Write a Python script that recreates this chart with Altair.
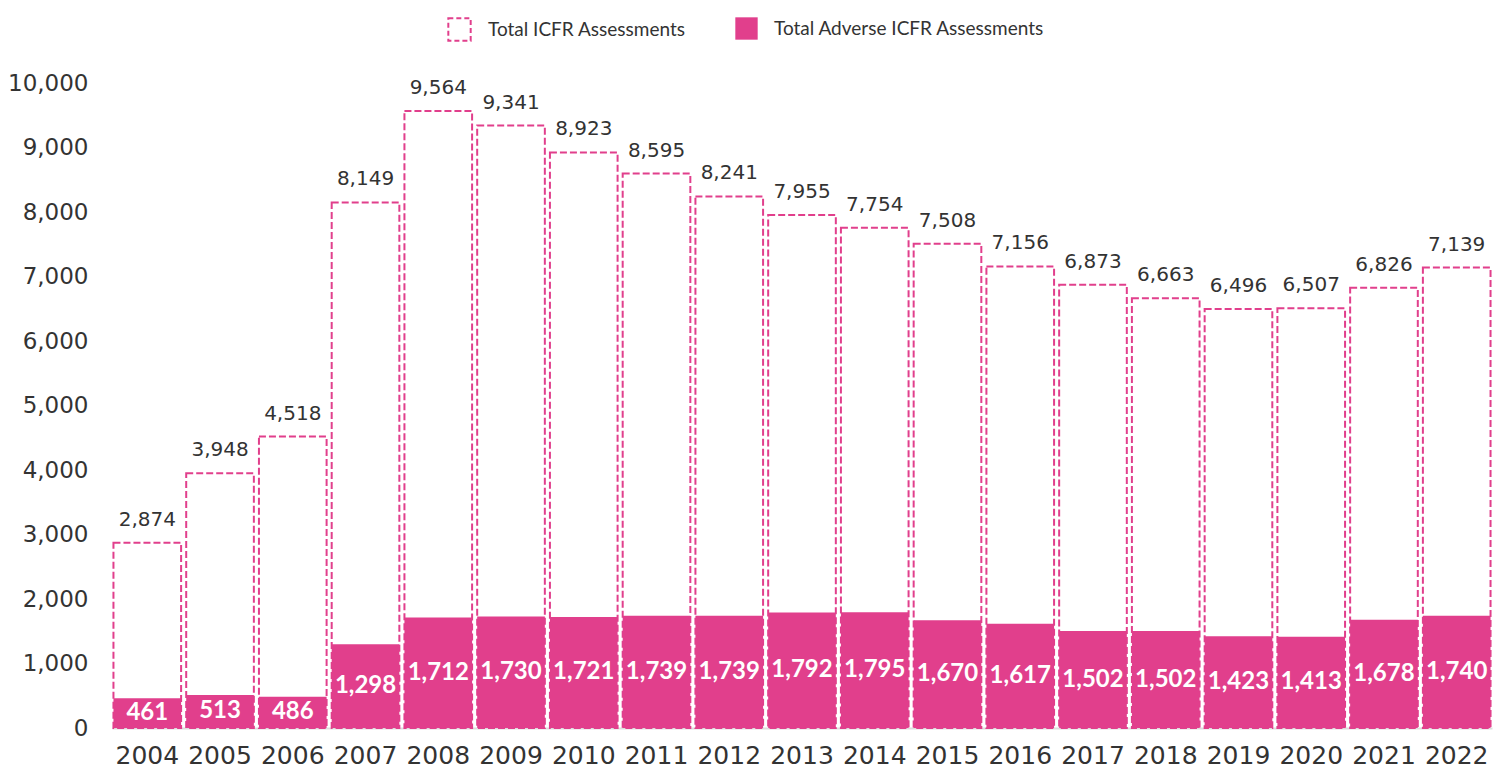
import altair as alt
import pandas as pd

years = [str(y) for y in range(2004, 2023)]
total_icfr = [2874, 3948, 4518, 8149, 9564, 9341, 8923, 8595, 8241, 7955,
              7754, 7508, 7156, 6873, 6663, 6496, 6507, 6826, 7139]
adverse_icfr = [461, 513, 486, 1298, 1712, 1730, 1721, 1739, 1739, 1792,
                1795, 1670, 1617, 1502, 1502, 1423, 1413, 1678, 1740]
y_ticks = list(range(0, 10001, 1000))

PINK = "#E13F8C"
TEXT = "#333333"
FONT = "DejaVu Sans"
LFONT = "Lato"

df = pd.DataFrame({
    "year": years,
    "total": total_icfr,
    "adverse": adverse_icfr,
    "half": [a / 2 for a in adverse_icfr],
    "s1": "Total ICFR Assessments",
    "s2": "Total Adverse ICFR Assessments",
})

x = alt.X("year:N", title=None, scale=alt.Scale(paddingInner=0.07, paddingOuter=0.02),
          axis=alt.Axis(labelAngle=0, labelFontSize=25, labelColor=TEXT, labelFont=FONT,
                        labelPadding=15, ticks=False, domainColor="#dddddd", domainWidth=2))
y_scale = alt.Scale(domain=[0, 10000])
y_axis = alt.Axis(values=y_ticks, format=",d", grid=False, domain=False, ticks=False,
                  labelFontSize=23, labelColor=TEXT, labelFont=FONT, labelPadding=24,
                  title=None)


def yenc(field):
    return alt.Y(field, title=None, scale=y_scale, axis=y_axis)


base = alt.Chart(df)

total_bars = base.mark_bar(fill="white", strokeWidth=2, strokeDash=[7, 3]).encode(
    x=x,
    y=yenc("total:Q"),
    stroke=alt.Stroke("s1:N", scale=alt.Scale(range=[PINK]),
                      legend=alt.Legend(title=None, orient="none", legendX=335, legendY=-66,
                                        symbolType="square", symbolSize=500,
                                        symbolDash=[5, 3], symbolStrokeWidth=2,
                                        symbolFillColor="white", labelFontSize=19,
                                        labelColor=TEXT, labelFont=LFONT, labelOffset=16,
                                        labelLimit=400)),
)

adverse_bars = base.mark_bar().encode(
    x=x,
    y=yenc("adverse:Q"),
    fill=alt.Fill("s2:N", scale=alt.Scale(range=[PINK]),
                  legend=alt.Legend(title=None, orient="none", legendX=623, legendY=-66,
                                    symbolType="square", symbolSize=500,
                                    symbolStrokeWidth=0, labelFontSize=19,
                                    labelColor=TEXT, labelFont=LFONT, labelOffset=16,
                                    labelLimit=400)),
)

total_labels = base.mark_text(baseline="alphabetic", dy=-17, fontSize=20, color=TEXT,
                              font=FONT).encode(
    x=x, y=yenc("total:Q"), text=alt.Text("total:Q", format=","))

adverse_labels = base.mark_text(baseline="middle", fontSize=24, fontWeight="bold",
                                color="white", font=LFONT).encode(
    x=x, y=yenc("half:Q"), text=alt.Text("adverse:Q", format=","))

chart = alt.layer(total_bars, adverse_bars, total_labels, adverse_labels).properties(
    width=1380, height=645,
    autosize=alt.AutoSizeParams(type="none"),
    padding={"left": 104, "top": 75, "right": 4, "bottom": 40},
).configure_view(stroke=None)

chart.save("out.html", embed_options={"renderer": "svg", "actions": False})
